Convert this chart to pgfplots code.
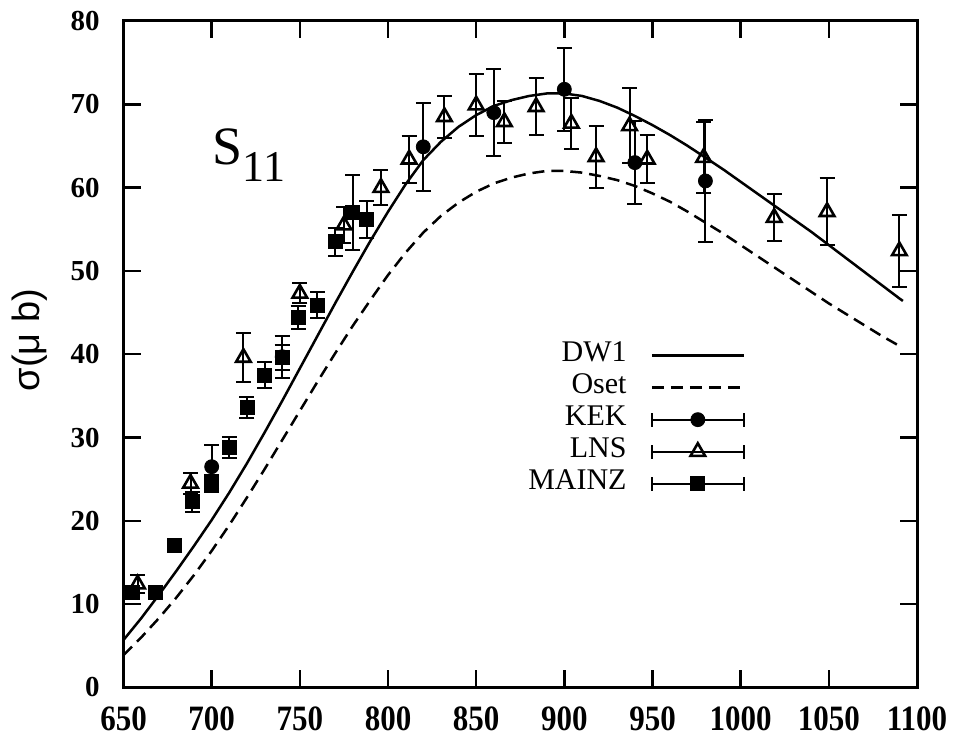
\documentclass[border=0pt]{standalone}
\usepackage{pgfplots}
\pgfplotsset{compat=1.18}
\usepackage{fontspec}
\setmainfont{Liberation Serif}
\newfontfamily\sansgr{Liberation Sans}
\newcommand{\xl}[1]{\scalebox{1}[1.15]{#1}}
% legend sample: bar with end caps and a mark in the middle
\pgfplotsset{
  ebleg/.style={legend image code/.code={
    \draw[line width=1pt, solid] (0pt,0pt) -- (46pt,0pt);
    \draw[line width=1pt, solid] (0pt,-3.5pt) -- (0pt,3.5pt);
    \draw[line width=1pt, solid] (46pt,-3.5pt) -- (46pt,3.5pt);
    \draw[mark=#1, mark repeat=2, mark phase=2]
      plot coordinates {(0pt,0pt) (23pt,0pt) (46pt,0pt)};}},
  ebars/.style={error bars/.cd, y dir=both, y explicit,
    error bar style={line width=1pt},
    error mark options={rotate=90, mark size=3.75pt, line width=1pt}},
}
\begin{document}
\begin{tikzpicture}
\begin{axis}[
  scale only axis, width=396.75pt, height=333.25pt,
  xmin=650, xmax=1100, ymin=0, ymax=80,
  axis line style={line width=1.5pt},
  every tick/.style={line width=1.25pt, black},
  major tick length=8.5pt,
  xtick={650,700,...,1100},
  xticklabels={\xl{650},\xl{700},\xl{750},\xl{800},\xl{850},\xl{900},\xl{950},\xl{1000},\xl{1050},\xl{1100}},
  ytick={0,10,...,80},
  yticklabels={0,10,20,30,40,50,60,70,80},
  xticklabel style={font=\fontsize{15.5}{16}\selectfont\bfseries, anchor=center, inner sep=0pt, yshift=-15.75pt},
  yticklabel style={font=\fontsize{14.5}{15}\selectfont\bfseries, anchor=east, inner sep=0pt, xshift=-11.75pt},
  ylabel={\sansgr σ(μ b)},
  ylabel style={font=\fontsize{19}{20}\selectfont, at={(axis description cs:0,0.521)}, anchor=center, yshift=46.75pt},
  legend plot pos=right,
  legend cell align=right,
  legend style={draw=none, fill=none, inner sep=0pt, outer sep=0pt,
    at={(axis cs:1002.5,41.75)}, anchor=north east,
    font=\fontsize{15}{16}\selectfont, row sep=0pt, column sep=12pt,
    nodes={inner sep=0pt, text height=11pt, text depth=5pt}},
  every axis plot/.append style={black},
]
% DW1
\addplot[line width=1.25pt,
  legend image code/.code={\draw[line width=1.25pt] (0pt,0pt) -- (46pt,0pt);}]
  coordinates {(650,5.7) (660,8.3) (670,11.1) (680,14.0) (690,17.0) (700,20.1) (710,23.4) (720,26.9) (730,30.6) (740,34.4) (750,38.3) (760,42.2) (770,46.1) (780,49.9) (790,53.6) (800,57.1) (810,60.4) (820,63.3) (830,65.5) (840,67.3) (850,68.7) (860,69.8) (870,70.5) (880,71.0) (890,71.3) (900,71.3) (910,71.0) (920,70.4) (930,69.6) (940,68.6) (950,67.5) (960,66.3) (970,65.0) (980,63.6) (990,62.2) (1000,60.7) (1010,59.2) (1020,57.7) (1030,56.2) (1040,54.7) (1050,53.1) (1060,51.5) (1070,49.9) (1080,48.3) (1090,46.7) (1092,46.4)};
\addlegendentry{DW1}
% Oset
\addplot[line width=1.25pt, dash pattern=on 6pt off 3.5pt,
  legend image code/.code={\draw[line width=1.25pt, dash pattern=on 6pt off 3.5pt] (0pt,0pt) -- (46pt,0pt);}]
  coordinates {(650,3.9) (660,6.0) (670,8.3) (680,10.8) (690,13.5) (700,16.4) (710,19.5) (720,22.8) (730,26.2) (740,29.7) (750,33.2) (760,36.7) (770,40.1) (780,43.4) (790,46.5) (800,49.5) (810,52.2) (820,54.6) (830,56.6) (840,58.2) (850,59.5) (860,60.5) (870,61.2) (880,61.7) (890,62.0) (900,62.0) (910,61.8) (920,61.4) (930,60.9) (940,60.2) (950,59.3) (960,58.3) (970,57.1) (980,55.8) (990,54.5) (1000,53.1) (1010,51.7) (1020,50.3) (1030,48.9) (1040,47.5) (1050,46.1) (1060,44.8) (1070,43.5) (1080,42.2) (1090,41.0) (1092,40.8)};
\addlegendentry{Oset}
% KEK
\addplot[only marks, mark=*, mark size=3.5pt, ebleg={*}, ebars]
  coordinates {(700,26.5) +- (0,2.6) (740,39.7) +- (0,2.5) (820,64.9) +- (0,5.3) (860,69.0) +- (0,5.2) (900,71.8) +- (0,5.0) (940,63.0) +- (0,5.0) (980,60.8) +- (0,7.3)};
\addlegendentry{KEK}
% LNS
\addplot[only marks, mark=triangle, mark size=4.2pt, mark options={line width=1.3pt}, ebleg={triangle}, ebars]
  coordinates {(658,12.4) +- (0,1.1) (688,24.5) +- (0,1.3) (718,39.6) +- (0,2.9) (750,47.3) +- (0,1.2) (775,55.5) +- (0,2.2) (796,60.0) +- (0,2.1) (812,63.4) +- (0,2.8) (832,68.5) +- (0,2.5) (850,69.9) +- (0,3.7) (866,67.9) +- (0,2.5) (884,69.7) +- (0,3.4) (904,67.7) +- (0,3.1) (918,63.7) +- (0,3.7) (937,67.4) +- (0,4.5) (947,63.4) +- (0,2.9) (979,63.6) +- (0,4.3) (1019,56.4) +- (0,2.8) (1049,57.1) +- (0,4.0) (1090,52.4) +- (0,4.3)};
\addlegendentry{LNS}
% MAINZ
\addplot[only marks, mark=square*, mark size=3.5pt, ebleg={square*}, ebars]
  coordinates {(655,11.4) +- (0,0.6) (668,11.4) +- (0,0.5) (679,17.0) +- (0,0.7) (689,22.3) +- (0,1.2) (700,24.5) +- (0,1.0) (710,28.8) +- (0,1.3) (720,33.6) +- (0,1.3) (730,37.5) +- (0,1.6) (740,39.6) +- (0,1.5) (749,44.4) +- (0,1.4) (760,45.9) +- (0,1.6) (770,53.5) +- (0,1.7) (780,57.0) +- (0,4.5) (788,56.2) +- (0,2.2)};
\addlegendentry{MAINZ}
\node[anchor=base west, inner sep=0pt] at (axis cs:700.4,62.8)
  {\fontsize{27}{30}\selectfont S\raisebox{-8.5pt}{\fontsize{22}{24}\selectfont 11}};
\end{axis}
\pgfresetboundingbox
\path (current axis.south west) ++(-61.75pt,-27.75pt) rectangle ([xshift=18.5pt,yshift=10.5pt]current axis.north east);
\end{tikzpicture}
\end{document}
